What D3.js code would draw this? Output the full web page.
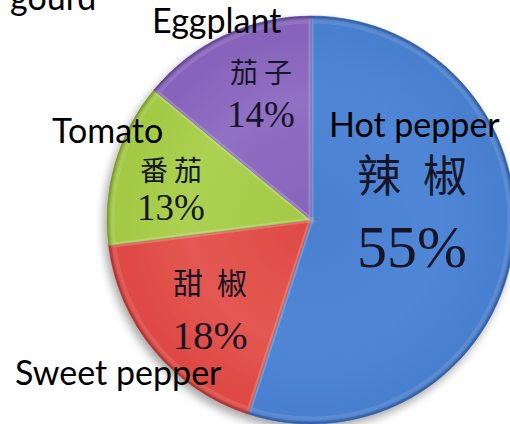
<!DOCTYPE html>
<html>
<head>
<meta charset="utf-8">
<script src="https://cdn.jsdelivr.net/npm/d3@7/dist/d3.min.js"></script>
<style>
  html, body { margin: 0; padding: 0; background: #fff; }
  svg { display: block; }
</style>
</head>
<body>
<svg id="chart" width="510" height="424"></svg>
<script>
// ---- data ----
const categories = ["Hot pepper", "Sweet pepper", "Tomato", "Eggplant"];
const chineseLabels = ["辣椒", "甜椒", "番茄", "茄子"];
const values = [55, 18, 13, 14];
const percentLabels = ["55%", "18%", "13%", "14%"];
const cutTitle = "gourd";

// ---- styles / layout (kept separate from data) ----
const baseColors = ["#4a7fcf", "#de4a45", "#a3c944", "#8763bb"];
const lightColors = ["#5087d6", "#e45852", "#add152", "#9070c2"];
const rimColors = ["#2f5c9e", "#a8302c", "#789a2a", "#5e4390"];

const W = 510, H = 424;
const cx = 311, cy = 220, R = 204;

const cjkLayout = [
  { dx: 101, cjkY: -28, cjkSize: 44, sp: 22, pctY: 47, pctSize: 60 },
  { dx: -101, cjkY: 74, cjkSize: 30, sp: 14, pctY: 129, pctSize: 41 },
  { dx: -140, cjkY: -39, cjkSize: 28, sp: 6, pctY: 0, pctSize: 37 },
  { dx: -50, cjkY: -137, cjkSize: 28, sp: 6, pctY: -93, pctSize: 37 }
];
const nameLayout = [
  { x: 329, y: 137 },
  { x: 15, y: 385 },
  { x: 52, y: 143 },
  { x: 152, y: 33 }
];

const svg = d3.select("#chart");
const defs = svg.append("defs");

// soft shadow
const f = defs.append("filter").attr("id", "shadow")
  .attr("x", "-20%").attr("y", "-20%").attr("width", "140%").attr("height", "140%");
f.append("feGaussianBlur").attr("in", "SourceAlpha").attr("stdDeviation", 5).attr("result", "b");
f.append("feOffset").attr("in", "b").attr("dx", -3).attr("dy", 5).attr("result", "o");
f.append("feComponentTransfer").attr("in", "o").attr("result", "s")
  .append("feFuncA").attr("type", "linear").attr("slope", 0.35);
const fm = f.append("feMerge");
fm.append("feMergeNode").attr("in", "s");
fm.append("feMergeNode").attr("in", "SourceGraphic");

values.forEach((v, i) => {
  const g = defs.append("radialGradient").attr("id", "grad" + i)
    .attr("gradientUnits", "userSpaceOnUse")
    .attr("cx", 0).attr("cy", 0).attr("r", R);
  g.append("stop").attr("offset", "0").attr("stop-color", baseColors[i]);
  g.append("stop").attr("offset", "0.6").attr("stop-color", lightColors[i]);
  g.append("stop").attr("offset", "0.92").attr("stop-color", baseColors[i]);
  g.append("stop").attr("offset", "0.975").attr("stop-color", baseColors[i]);
  g.append("stop").attr("offset", "1").attr("stop-color", rimColors[i]);
});

const pie = d3.pie().sort(null).value(d => d);
const arcs = pie(values);
const arc = d3.arc().innerRadius(0).outerRadius(R);

const gPie = svg.append("g").attr("transform", `translate(${cx},${cy})`);
const shadowG = gPie.append("g").attr("filter", "url(#shadow)");
shadowG.selectAll("path.slice").data(arcs).enter().append("path")
  .attr("class", "slice")
  .attr("d", arc)
  .attr("fill", (d, i) => `url(#grad${i})`)
  .attr("stroke", (d, i) => rimColors[i])
  .attr("stroke-opacity", 0.6)
  .attr("stroke-width", 1);

// subtle inner bevel along slice edges
const bevelArc = d3.arc().innerRadius(0).outerRadius(R - 5);
gPie.selectAll("path.bevel").data(arcs).enter().append("path")
  .attr("class", "bevel")
  .attr("d", bevelArc)
  .attr("fill", "none")
  .attr("stroke", "#ffffff")
  .attr("stroke-opacity", 0.1)
  .attr("stroke-width", 5);

// CJK + percent labels
const lbl = gPie.append("g");
arcs.forEach((d, i) => {
  const L = cjkLayout[i];
  lbl.append("text")
    .attr("x", L.dx + L.sp / 2)
    .attr("y", L.cjkY)
    .attr("text-anchor", "middle")
    .attr("font-family", "'Noto Sans CJK TC', 'Noto Sans CJK SC', sans-serif")
    .attr("font-weight", 400)
    .attr("font-size", L.cjkSize)
    .attr("letter-spacing", L.sp)
    .attr("fill", "#161628")
    .text(chineseLabels[i]);
  lbl.append("text")
    .attr("x", L.dx)
    .attr("y", L.pctY)
    .attr("text-anchor", "middle")
    .attr("font-family", "'Liberation Serif', 'DejaVu Serif', serif")
    .attr("font-size", L.pctSize)
    .attr("fill", "#161628")
    .text(percentLabels[i]);
});

// English category labels
svg.append("g").selectAll("text.name").data(categories).enter().append("text")
  .attr("class", "name")
  .attr("x", (d, i) => nameLayout[i].x)
  .attr("y", (d, i) => nameLayout[i].y)
  .attr("font-family", "Lato, 'Open Sans', sans-serif")
  .attr("font-size", 34)
  .attr("fill", "#000")
  .text(d => d);

svg.append("text")
  .attr("x", 10).attr("y", 10)
  .attr("font-family", "Lato, 'Open Sans', sans-serif")
  .attr("font-size", 34)
  .attr("fill", "#000")
  .text(cutTitle);
</script>
</body>
</html>
